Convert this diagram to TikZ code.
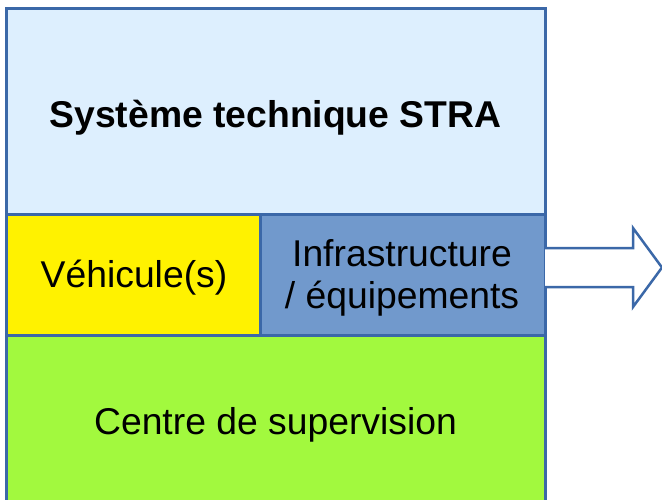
\documentclass[tikz,border=0pt]{standalone}
\usepackage{fontspec}
\setmainfont{Liberation Sans}
\definecolor{bordc}{HTML}{3B68A8}
\definecolor{topc}{HTML}{DDEFFE}
\definecolor{vehc}{HTML}{FFF200}
\definecolor{infc}{HTML}{7199CC}
\definecolor{supc}{HTML}{A2F93E}
\tikzset{
  blk/.style={draw=bordc, line width=3pt, inner sep=0pt},
  lbl/.style={anchor=base, inner sep=0pt, font=\fontsize{37.3}{42}\selectfont},
}
\begin{document}
\begin{tikzpicture}[x=1pt,y=-1pt]
\useasboundingbox (0,0) rectangle (662,499);
\clip (0,0) rectangle (662,499);
% blocks
\draw[blk, fill=supc] (6,335) rectangle (545,520);
\coordinate (supbox) at (275.5,420);
\draw[blk, fill=topc] (6,8) rectangle (545,214);
\draw[blk, fill=vehc] (6,214) rectangle (260,335);
\draw[blk, fill=infc] (260,214) rectangle (545,335);
\coordinate (infr) at (545,267.5);
% arrow
\draw[draw=bordc, fill=white, line width=2.5pt, line join=miter]
  (infr) ++(0,-19.5) -- (633,248) -- (633,228) -- (662,267.5) -- (633,307)
  -- (633,287) -- (545,287);
% texts
\node[lbl, font=\fontsize{37.3}{42}\selectfont\bfseries] (title) at (275.5,127) {Système technique STRA};
\node[lbl] (veh) at (134,287) {Véhicule(s)};
\node[lbl] (inf1) at (402,266) {Infrastructure};
\node[lbl] (inf2) at (402,308) {/ équipements};
\node[lbl] (sup) at (275.5,434) {Centre de supervision};
\end{tikzpicture}
\end{document}
